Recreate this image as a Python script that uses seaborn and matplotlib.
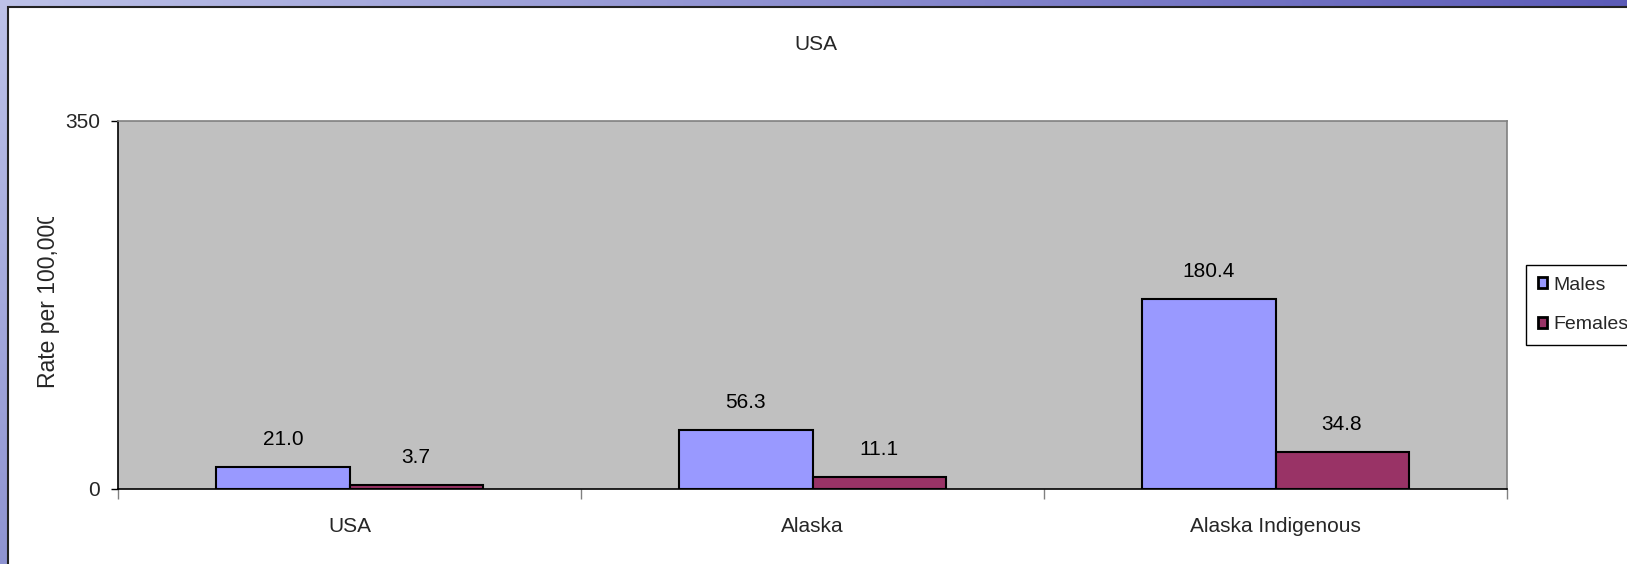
import numpy as np
import pandas as pd
import matplotlib
matplotlib.use("Agg")
import matplotlib.pyplot as plt
import seaborn as sns
from matplotlib import font_manager
from matplotlib.patches import Rectangle, Patch
from matplotlib.transforms import Bbox

# ---------------- data ----------------
categories = ["USA", "Alaska", "Alaska Indigenous"]
series_names = ["Males", "Females"]
males = [21.0, 56.3, 180.4]
females = [3.7, 11.1, 34.8]
y_ticks = [0, 350]
chart_title = "USA"
y_label = "Rate per 100,000"
series_colors = ["#9999FF", "#993366"]

df = pd.DataFrame({
    "region": categories * 2,
    "sex": [series_names[0]] * len(males) + [series_names[1]] * len(females),
    "rate": males + females,
})

sns.set_theme(style="white")
names = {f.name for f in font_manager.fontManager.ttflist}
narrow = "Liberation Sans Narrow" if "Liberation Sans Narrow" in names else "Liberation Sans"
plt.rcParams["font.family"] = [narrow, "DejaVu Sans"]
FS = 17 if narrow == "Liberation Sans Narrow" else 15
LFS = 16.5 if narrow == "Liberation Sans Narrow" else 14

W, H = 1627, 564
fig = plt.figure(figsize=(W / 100, H / 100), dpi=100)

# ---------------- slide background ----------------
bg = fig.add_axes([0, 0, 1, 1], zorder=-10)
bg.set_xlim(0, W)
bg.set_ylim(H, 0)
bg.axis("off")
tl = np.array([0.74, 0.76, 0.91])
tr = np.array([0.36, 0.36, 0.72])
bl = np.array([0.56, 0.58, 0.82])
br = np.array([0.36, 0.36, 0.72])
u = np.linspace(0, 1, 200)[None, :, None]
v = np.linspace(0, 1, 60)[:, None, None]
grad = (1 - u) * (1 - v) * tl + u * (1 - v) * tr + (1 - u) * v * bl + u * v * br
bg.imshow(grad, extent=[0, W, H, 0], aspect="auto", interpolation="bilinear")
bg.add_patch(Rectangle((8, 7), W, H, facecolor="white", edgecolor="#222222", lw=1.5))

# ---------------- chart ----------------
ax = fig.add_axes([118 / W, (H - 489) / H, (1507 - 118) / W, (489 - 121) / H])
sns.barplot(data=df, x="region", y="rate", hue="sex", order=categories,
            hue_order=series_names, palette=series_colors, saturation=1,
            edgecolor="black", linewidth=1.5, width=0.575, errorbar=None,
            ax=ax, legend=False)

ax.set_facecolor("#C0C0C0")
ax.set_ylim(0, 350)
ax.set_xlim(-0.5, 2.5)
ax.set_yticks(y_ticks)
ax.set_xlabel("")
ax.set_ylabel("")
for s in ["top", "right"]:
    ax.spines[s].set_color("#808080")
    ax.spines[s].set_linewidth(1.2)
for s in ["left", "bottom"]:
    ax.spines[s].set_color("black")
    ax.spines[s].set_linewidth(1.2)

ax.tick_params(axis="y", direction="out", length=5, width=1, color="black",
               labelsize=FS, pad=8, left=True)
ax.tick_params(axis="x", which="major", length=0, labelsize=FS, pad=20)
ax.set_xticks([-0.5, 0.5, 1.5, 2.5], minor=True)
ax.tick_params(axis="x", which="minor", direction="out", length=7, width=1,
               color="#808080", bottom=True)

for cont in ax.containers:
    ax.bar_label(cont, labels=[f"{b.get_height():.1f}" for b in cont],
                 padding=13, fontsize=FS, color="black")

# legend
handles = [Patch(facecolor=c, edgecolor="black", lw=2) for c in series_colors]
fig.legend(handles, series_names, loc="upper left",
           bbox_to_anchor=(1526 / W, (H - 265) / H), frameon=True,
           fancybox=False, edgecolor="black", facecolor="white", framealpha=1,
           fontsize=LFS, handlelength=0.5, handleheight=0.5, handletextpad=0.3,
           labelspacing=1.15, borderpad=0.6, borderaxespad=0)

# title
fig.text(816 / W, 1 - 45 / H, chart_title, ha="center", va="center", fontsize=FS)

# y label (clipped at top like the original)
yl = fig.text(49 / W, (H - 299) / H, y_label, rotation=90, ha="center", va="center",
              fontsize=16.5, family=["Liberation Sans", "DejaVu Sans"])
yl.set_clip_box(Bbox.from_extents(0, 0, W, H - 217))
yl.set_clip_on(True)

fig.savefig("out.png", dpi=100)
